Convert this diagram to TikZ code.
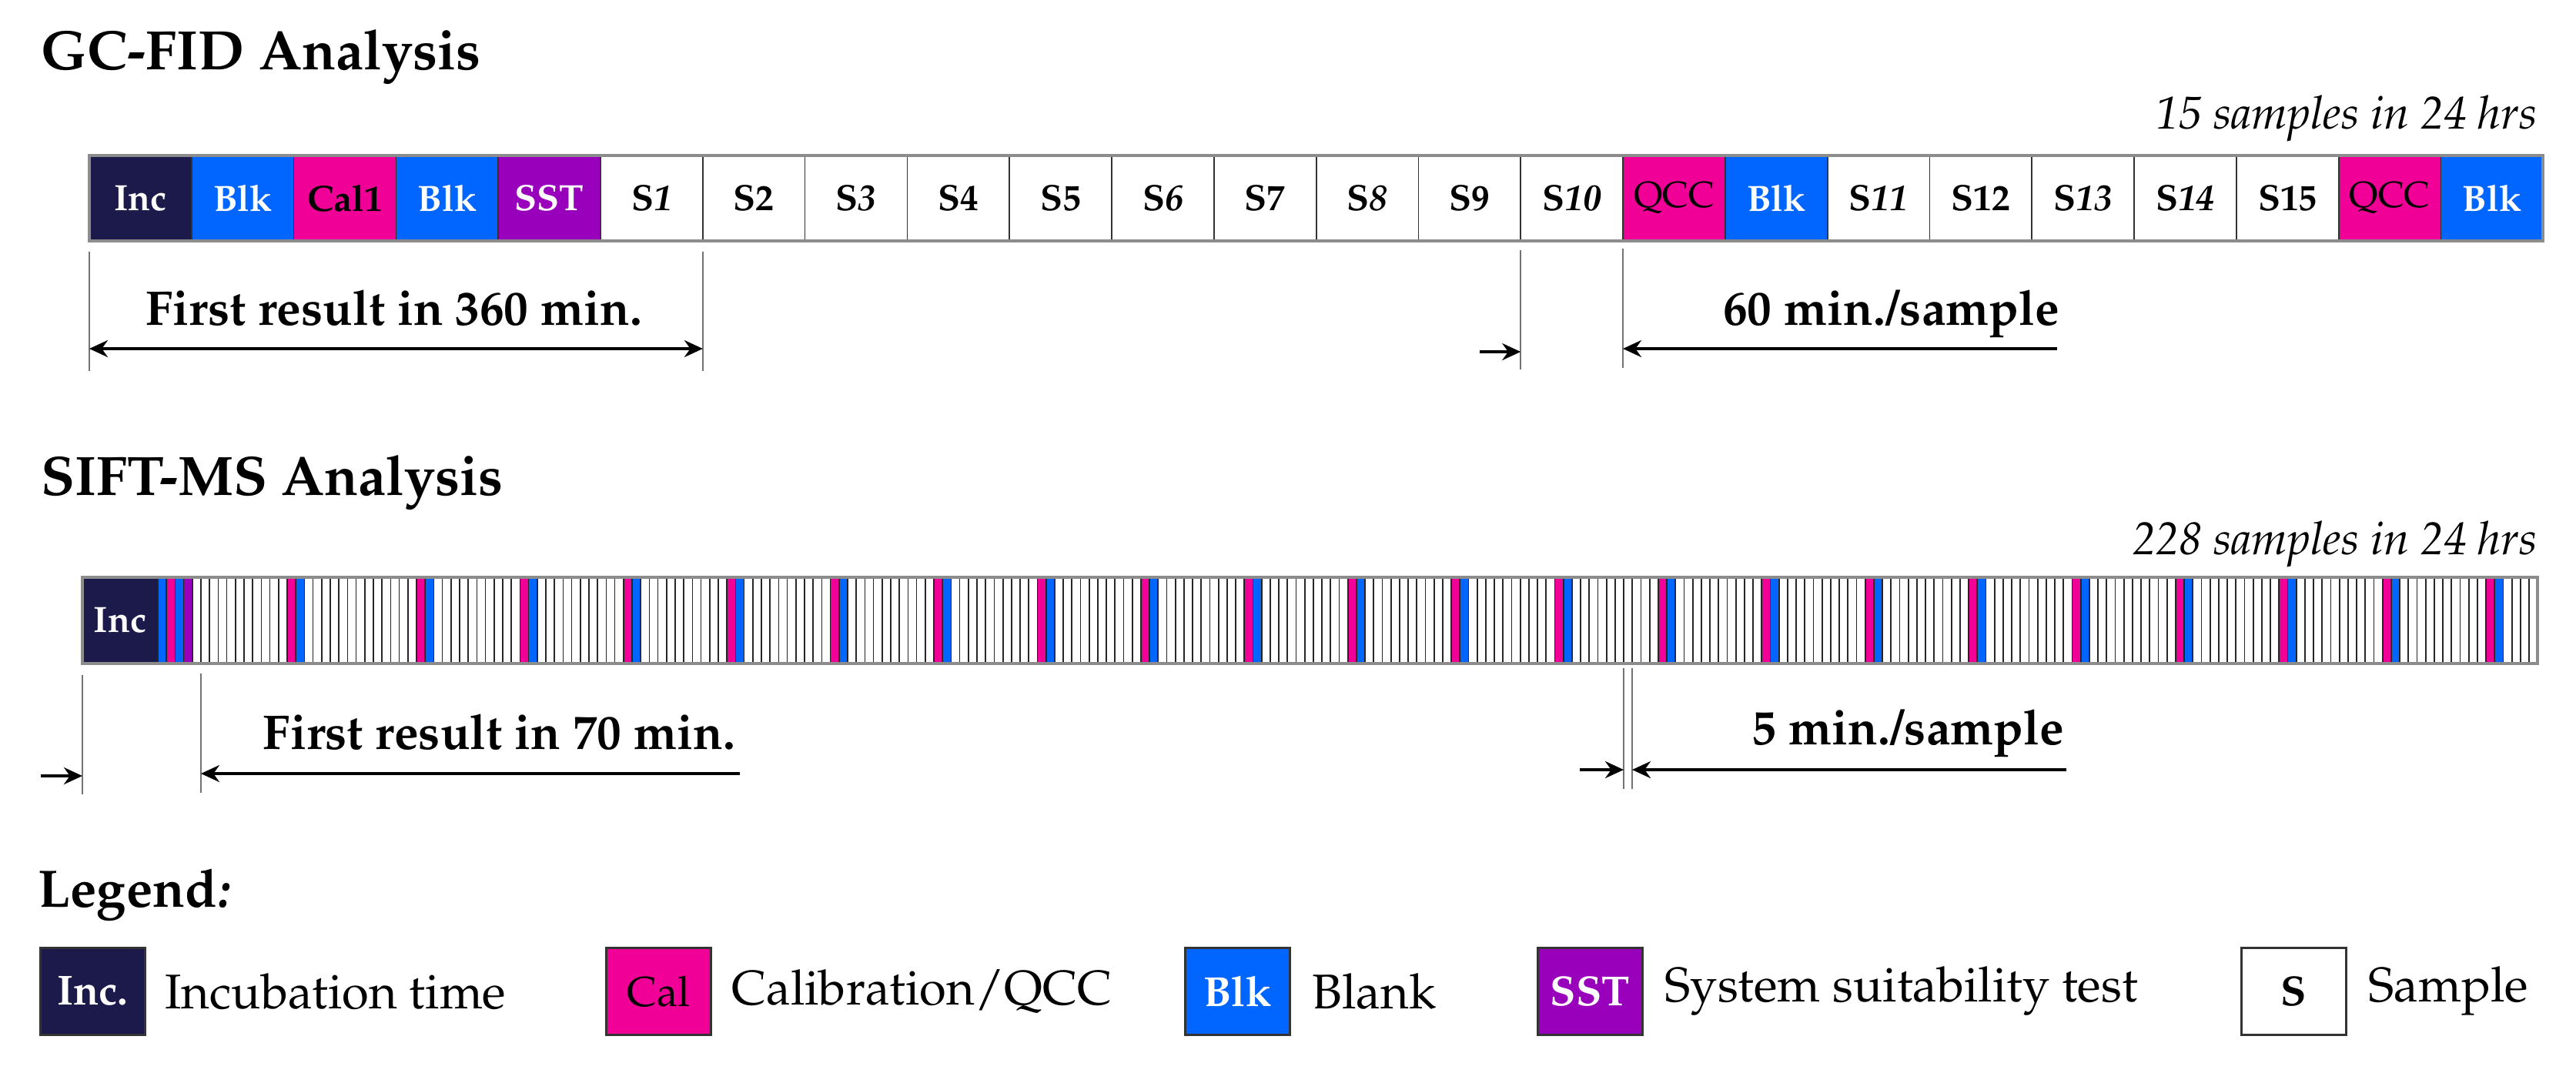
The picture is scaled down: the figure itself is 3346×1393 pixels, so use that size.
\documentclass[tikz,border=0pt]{standalone}
\usepackage[T1]{fontenc}
\usepackage{mathpazo}
\usepackage{xcolor}
\usepackage{tikz}
\usetikzlibrary{positioning, arrows.meta}

\definecolor{incnavy}{RGB}{28,26,74}
\definecolor{blkblue}{RGB}{0,102,255}
\definecolor{calpink}{RGB}{240,0,150}
\definecolor{sstpurple}{RGB}{153,0,187}

\begin{document}
\begin{tikzpicture}[x=0.01cm, y=-0.01cm,
  cell/.style={rectangle, draw=black!80, line width=0.5pt, minimum width=1.328cm, minimum height=1.11cm, inner sep=0pt, outer sep=0pt, anchor=north west, font=\bfseries\fontsize{13.5}{14}\selectfont},
  stripe/.style={draw=black!85, line width=0.5pt},
  barframe/.style={draw=black!45, line width=1.2pt},
  keybox/.style={rectangle, draw=black!80, line width=0.8pt, minimum width=1.36cm, minimum height=1.13cm, inner sep=0pt, anchor=north west, font=\bfseries\fontsize{15.5}{16}\selectfont},
  keytext/.style={inner sep=0pt, font=\fontsize{18}{20}\selectfont},
  heading/.style={anchor=base west, inner sep=0pt, font=\bfseries\fontsize{20.5}{24}\selectfont},
  rate/.style={anchor=base east, inner sep=0pt, font=\itshape\fontsize{17}{20}\selectfont},
  dimtext/.style={anchor=base east, inner sep=0pt, font=\bfseries\fontsize{18}{20}\selectfont},
  tickline/.style={draw=black!55, line width=0.5pt},
  dimarrow/.style={line width=1pt, >={Stealth[length=2.4mm, width=2.2mm]}}
]
\useasboundingbox (0,0) rectangle (3346,1393);

% GC-FID run
\node[heading] (gctitle) at (53,90) {GC-FID Analysis};
\node[rate] (gcrate) at (3296,167) {15 samples in 24 hrs};

\foreach \lab/\col/\txt [count=\i from 0] in {
  Inc/incnavy/white, Blk/blkblue/white, Cal1/calpink/black, Blk/blkblue/white, SST/sstpurple/white,
  S\textit{1}/white/black, S2/white/black, S\textit{3}/white/black, S4/white/black, S5/white/black,
  S\textit{6}/white/black, S7/white/black, S\textit{8}/white/black, S9/white/black, S\textit{10}/white/black,
  {\mdseries QCC}/calpink/black, Blk/blkblue/white,
  S\textit{11}/white/black, S12/white/black, S\textit{13}/white/black, S\textit{14}/white/black, S15/white/black,
  {\mdseries QCC}/calpink/black, Blk/blkblue/white}
  \node[cell, fill=\col, text=\txt] (gc\i) at ({116+132.8*\i},202) {\lab};
\draw[barframe] (gc0.north west) rectangle (gc23.south east);

% GC-FID dimensions
\draw[tickline] (gc0.south west |- 0,327) -- (gc0.south west |- 0,482);
\draw[tickline] (gc5.south east |- 0,327) -- (gc5.south east |- 0,482);
\draw[tickline] (gc14.south west |- 0,325) -- (gc14.south west |- 0,480);
\draw[tickline] (gc15.south west |- 0,323) -- (gc15.south west |- 0,478);

\coordinate (gcA) at (gc0.south west |- 0,453);
\coordinate (gcB) at (gc5.south east |- 0,453);
\coordinate (gcC) at (gc14.south west |- 0,457);
\coordinate (gcCin) at (1922,457);
\coordinate (gcD) at (gc15.south west |- 0,453);
\coordinate (gcDout) at (2672,453);

\draw[dimarrow, <->] (gcA) -- (gcB);
\draw[dimarrow, ->] (gcCin) -- (gcC);
\draw[dimarrow, ->] (gcDout) -- (gcD);
\node[dimtext] (gcfirst) at (835,422) {First result in 360 min.};
\node[dimtext] (gcper) at (2676,422) {60 min./sample};

% SIFT-MS run
\node[heading] (sititle) at (53,643) {SIFT-MS Analysis};
\node[rate] (sirate) at (3296,720) {228 samples in 24 hrs};

\node[cell, fill=incnavy, text=white, minimum width=0.98cm, minimum height=1.12cm] (si0) at (107,750) {Inc};
\foreach \col [count=\i from 0] in {blkblue, calpink, blkblue, sstpurple}
  \draw[stripe, fill=\col] ({205+11.2*\i},750) rectangle +(11.2,112);
\foreach \k in {0,...,271}
  \draw[stripe, fill=white] ({249.8+11.2*\k},750) rectangle +(11.2,112);
\foreach \k in {11,26,38,50,62,74,86,98,110,122,134,146,158,170,182,194,206,218,230,242,254,266} {
  \draw[stripe, fill=calpink] ({249.8+11.2*\k},750) rectangle +(11.2,112);
  \draw[stripe, fill=blkblue] ({249.8+11.2*(\k+1)},750) rectangle +(11.2,112);
}
\coordinate (siend) at (3296,862);
\draw[barframe] (si0.north west) rectangle (siend);

% SIFT-MS dimensions
\coordinate (s1end) at (261,862);
\coordinate (s166a) at (2109,862);
\coordinate (s166b) at (2120,862);
\draw[tickline] (si0.south west |- 0,877) -- (si0.south west |- 0,1032);
\draw[tickline] (s1end |- 0,875) -- (s1end |- 0,1030);
\draw[tickline] (s166a |- 0,868) -- (s166a |- 0,1025);
\draw[tickline] (s166b |- 0,868) -- (s166b |- 0,1025);

\coordinate (siA) at (si0.south west |- 0,1008);
\coordinate (siAin) at (53,1008);
\coordinate (siB) at (s1end |- 0,1005);
\coordinate (siBout) at (961,1005);
\coordinate (siC) at (s166a |- 0,1000);
\coordinate (siCin) at (2052,1000);
\coordinate (siD) at (s166b |- 0,1000);
\coordinate (siDout) at (2684,1000);

\draw[dimarrow, ->] (siAin) -- (siA);
\draw[dimarrow, ->] (siBout) -- (siB);
\draw[dimarrow, ->] (siCin) -- (siC);
\draw[dimarrow, ->] (siDout) -- (siD);
\node[dimtext] (sifirst) at (956,973) {First result in 70 min.};
\node[dimtext] (siper) at (2682,967) {5 min./sample};

% Legend
\node[heading, font=\bfseries\fontsize{19.5}{22}\selectfont] (legend) at (49,1178) {Legend\textit{:}};
\node[keybox, fill=incnavy, text=white] (kinc) at (51,1230) {Inc.};
\node[keytext, right=0.24cm of kinc] (tinc) {Incubation time};
\node[keybox, fill=calpink, font=\fontsize{15.5}{16}\selectfont] (kcal) at (786,1230) {Cal};
\node[keytext, right=0.25cm of kcal] (tcal) {Calibration/QCC};
\node[keybox, fill=blkblue, text=white] (kblk) at (1538,1230) {Blk};
\node[keytext, right=0.27cm of kblk] (tblk) {Blank};
\node[keybox, fill=sstpurple, text=white] (ksst) at (1996,1230) {SST};
\node[keytext, right=0.27cm of ksst] (tsst) {System suitability test};
\node[keybox, fill=white] (ksam) at (2910,1230) {S};
\node[keytext, right=0.27cm of ksam] (tsam) {Sample};

\end{tikzpicture}
\end{document}
